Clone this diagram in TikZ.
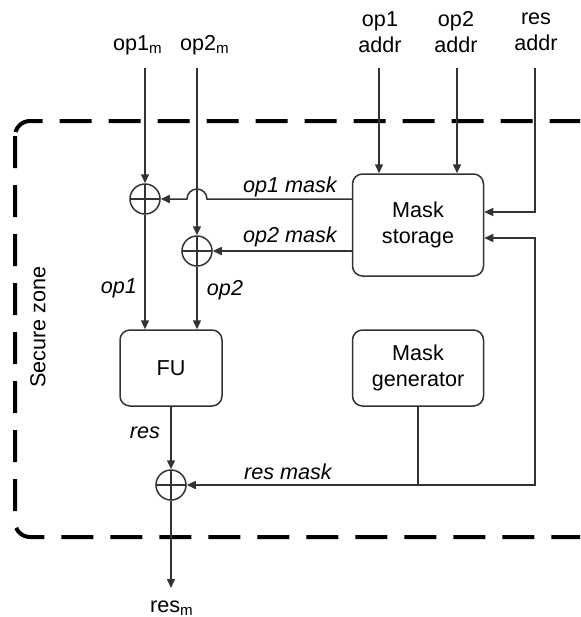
\documentclass[tikz,border=0pt]{standalone}
\usepackage{fontspec}
\setmainfont{Liberation Sans}
\usetikzlibrary{arrows.meta,calc}
\definecolor{wiregray}{RGB}{51,51,51}

\tikzset{
  blk/.style={draw=wiregray,line width=0.75pt,rounded corners=5pt,align=center,inner sep=0pt},
  xorop/.style={draw=wiregray,line width=0.75pt,circle,minimum size=15pt,inner sep=0pt,
    path picture={\draw[wiregray,line width=0.75pt] (path picture bounding box.north) -- (path picture bounding box.south)
      (path picture bounding box.west) -- (path picture bounding box.east);}},
  wire/.style={draw=wiregray,line width=0.75pt},
  arr/.style={wire,-{Triangle[length=4.5pt,width=4pt]}},
  sig/.style={font=\fontsize{10.8}{13}\selectfont\itshape},
}

\begin{document}
\begin{tikzpicture}[x=0.5pt,y=-0.5pt,font=\fontsize{10.8}{13}\selectfont]
  \useasboundingbox (0,0) rectangle (580,617);
  \clip (0,0) rectangle (580,617);
  % secure zone, open to the right
  \draw[black,line width=2pt,dash pattern=on 16pt off 8.5pt,rounded corners=7.5pt] (15,121) rectangle (610,537);
  \node[rotate=90] (zone) at (38,327) {Secure zone};
  % blocks
  \node[blk,minimum width=51pt,minimum height=38pt] (fu) at (171,368) {FU};
  \node[blk,minimum width=65.5pt,minimum height=51pt] (store) at (418,225) {Mask\\storage};
  \node[blk,minimum width=65.5pt,minimum height=38pt] (gen) at (418,368) {Mask\\generator};
  \node[xorop] (x1) at (145,199) {};
  \node[xorop] (x2) at (197,251) {};
  \node[xorop] (x3) at (171,485) {};
  % inputs and output
  \node (op1m) at (138,45) {op1\textsubscript{m}};
  \node (op2m) at (205,45) {op2\textsubscript{m}};
  \node[align=center] (a1) at (380,32) {op1\\addr};
  \node[align=center] (a2) at (456,32) {op2\\addr};
  \node[align=center] (ra) at (536,32) {res\\addr};
  \node (resm) at (172,608) {res\textsubscript{m}};
  \coordinate (in1) at (145,68);
  \coordinate (in2) at (197,68);
  \coordinate (ia1) at (379,68);
  \coordinate (ia2) at (457,68);
  \coordinate (ira) at (535,68);
  \coordinate (rb) at (535,485);
  \coordinate (out) at (171,588);
  % signal labels
  \node[sig] (l1) at (119,288) {op1};
  \node[sig] (l2) at (225,290) {op2};
  \node[sig] (l3) at (290,187) {op1 mask};
  \node[sig] (l4) at (290,237) {op2 mask};
  \node[sig] (l5) at (145,433) {res};
  \node[sig] (l6) at (288,472) {res mask};
  % operand paths
  \draw[arr] (in1) -- (x1);
  \draw[arr] (x1) -- (x1 |- fu.north);
  \draw[arr] (in2) -- (x2);
  \draw[arr] (x2) -- (x2 |- fu.north);
  \draw[arr] (store.west |- x1) -- ($(x2 |- x1)+(5pt,0)$) arc[start angle=0,end angle=180,radius=5pt] -- (x1);
  \draw[arr] (store.west |- x2) -- (x2);
  % addresses
  \draw[arr] (ia1) -- (ia1 |- store.north);
  \draw[arr] (ia2) -- (ia2 |- store.north);
  \draw[arr] (ira) |- ([yshift=6.5pt]store.east);
  % result path
  \coordinate (tap) at (gen.south |- x3);
  \draw[arr] (gen.south) -- (tap) -- (x3);
  \draw[arr] (tap) -- (rb) |- ([yshift=-6.5pt]store.east);
  \draw[arr] (fu) -- (x3);
  \draw[arr] (x3) -- (out);
\end{tikzpicture}
\end{document}
